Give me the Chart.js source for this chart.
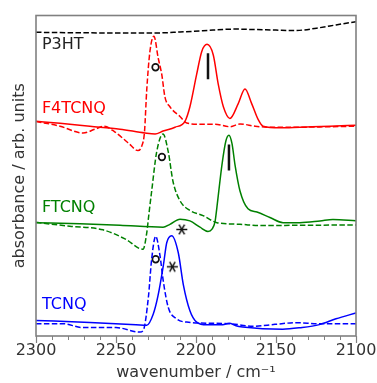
<!DOCTYPE html>
<html>
<head>
<meta charset="utf-8">
<script src="https://cdn.jsdelivr.net/npm/chart.js@4.4.0/dist/chart.umd.min.js"></script>
<style>
  html, body { margin: 0; padding: 0; background: #fff; }
</style>
</head>
<body>
<canvas id="chart" width="377" height="383"></canvas>
<script>
// spectra, wavenumber (cm-1) and absorbance (arb. units, offset per sample)
const p3htWn  = [2300, 2272.5, 2247.5, 2225, 2210, 2195.8, 2175, 2162.5, 2150, 2141, 2133.3, 2122.5, 2112.5, 2100];
const p3htAbs = [312.7, 312.2, 312, 312, 313, 314.3, 316, 315.5, 315, 314.5, 315, 317.5, 320.3, 323.7];

const f4Wn  = [2300, 2285, 2266.3, 2247.5, 2231.9, 2225.6, 2220.6, 2213.1, 2206.9, 2203.8, 2199.6, 2196.4, 2193.1, 2189.2, 2186.1, 2182.9, 2178.8, 2173.6, 2169.4, 2165.2, 2161.1, 2158.1, 2147.5, 2135, 2116.3, 2100];
const f4Abs = [221, 219, 216, 213, 209, 208, 211, 215, 221, 236, 269.3, 293, 300.3, 289.3, 259.3, 236, 224, 239.3, 254.3, 239.3, 222.7, 216, 214.3, 215, 216, 217];
const f4NeuWn  = [2300, 2285, 2270.6, 2263.1, 2257.5, 2250.6, 2242.5, 2236.3, 2233.8, 2232.2, 2230.8, 2228.8, 2226.3, 2223.6, 2221.4, 2219.4, 2216.3, 2210, 2205.8, 2197.5, 2188, 2178.8, 2172.5, 2163, 2153.8, 2135, 2116, 2100];
const f4NeuAbs = [221, 216, 209, 213, 216, 210, 199, 191, 196, 210, 253, 293, 308.7, 286, 269.3, 246, 236, 226, 219.3, 218, 218, 215.5, 218.3, 216, 215, 215, 215.5, 216];

const ftWn  = [2300, 2272.5, 2247.5, 2220.6, 2216.3, 2210, 2203.8, 2197.5, 2192.5, 2190, 2188.1, 2186.9, 2183.8, 2181.3, 2179.4, 2177.5, 2175.6, 2172.5, 2167.5, 2161.9, 2153.8, 2145.6, 2135, 2122.5, 2114.4, 2100];
const ftAbs = [116.7, 115.5, 114, 112, 115, 120.3, 118.5, 112, 107.7, 110, 117.7, 133, 176, 201, 206.7, 198, 176, 149.3, 131, 127.7, 122, 116.7, 116.7, 118.5, 120, 118.7];
const ftNeuWn  = [2300, 2278.8, 2258.1, 2244.4, 2233.1, 2230.8, 2229.4, 2227.7, 2224.6, 2220.6, 2217.3, 2214.4, 2210, 2203.8, 2195.6, 2186.9, 2172.5, 2160, 2135, 2100];
const ftNeuAbs = [117, 113, 109.3, 100, 89.3, 106, 126, 149.3, 189.3, 208, 189.3, 159.3, 139.3, 129.3, 124, 116.7, 115, 113.7, 114, 114.3];

const tcWn  = [2300, 2266.3, 2237.5, 2230.8, 2226.7, 2223.8, 2220.4, 2218.3, 2215.2, 2211.1, 2207.9, 2203.8, 2199.6, 2193.3, 2183.3, 2179.2, 2175, 2170.8, 2145.8, 2135, 2122.9, 2112.5, 2100];
const tcAbs = [16, 14, 11.7, 11, 22.7, 41, 72.7, 96, 103.3, 86, 52.7, 26, 14.3, 11.5, 11.7, 13, 10.5, 9.3, 7, 8.5, 11.7, 17.7, 23.7];
const tcNeuWn  = [2300, 2283.3, 2270.8, 2250, 2237.5, 2235, 2232.9, 2229.8, 2227.7, 2225.2, 2222.5, 2220.4, 2217.3, 2212.1, 2205.8, 2179.2, 2164.6, 2150.6, 2137.5, 2122.9, 2100];
const tcNeuAbs = [12.7, 12.7, 8.7, 8.7, 4.3, 4, 6, 39.3, 79.3, 102.7, 82.7, 56, 29.3, 17.7, 14.3, 12.7, 10, 12, 13.7, 12.7, 12.7];

// peak markers
const circleWn = [2225.3, 2221.3, 2225.2];
const circleAbs = [276.7, 184.3, 79];
const barWn = [2192.5, 2179.4];
const barAbs = [277.7, 183.7];
const starWn = [2208.9, 2214.8];
const starAbs = [109.7, 71.3];

// sample names
const names = ["P3HT", "F4TCNQ", "FTCNQ", "TCNQ"];
const nameColors = ["#222222", "#ff0000", "#008000", "#0000ff"];
const nameWn = 2296.3;
const nameAbs = [300.2, 233.5, 131.5, 31.8];

const majorTicks = [2300, 2250, 2200, 2150, 2100];
const minorTicks = [2290, 2280, 2270, 2260, 2240, 2230, 2220, 2210, 2190, 2180, 2170, 2160, 2140, 2130, 2120, 2110];

const pairs = (xs, ys) => xs.map((x, i) => ({ x: x, y: ys[i] }));

function curve(label, xs, ys, color, dashed) {
  return {
    label: label,
    data: pairs(xs, ys),
    showLine: true,
    borderColor: color,
    borderWidth: 1.5,
    borderDash: dashed ? [5.5, 2.4] : [],
    pointRadius: 0,
    cubicInterpolationMode: "monotone",
    fill: false,
  };
}

// asterisk marker
const star = document.createElement("canvas");
star.width = 13;
star.height = 13;
const sc = star.getContext("2d");
sc.strokeStyle = "#111";
sc.lineWidth = 1.5;
for (let a = 0; a < 3; a++) {
  const t = (a * Math.PI) / 3;
  sc.beginPath();
  sc.moveTo(6.5 - 5.5 * Math.cos(t), 6.5 - 5.5 * Math.sin(t));
  sc.lineTo(6.5 + 5.5 * Math.cos(t), 6.5 + 5.5 * Math.sin(t));
  sc.stroke();
}

const extras = {
  id: "extras",
  afterDraw(chart) {
    const { ctx, chartArea: a } = chart;
    const x = chart.scales.x;
    const y = chart.scales.y;
    ctx.save();
    ctx.strokeStyle = "#808080";
    ctx.lineWidth = 1;
    minorTicks.forEach((v) => {
      const px = Math.round(x.getPixelForValue(v)) + 0.5;
      ctx.beginPath();
      ctx.moveTo(px, a.bottom);
      ctx.lineTo(px, a.bottom + 4);
      ctx.stroke();
    });
    ctx.lineWidth = 1.6;
    ctx.strokeRect(a.left, a.top, a.right - a.left, a.bottom - a.top);
    ctx.font = "16px 'DejaVu Sans'";
    ctx.textBaseline = "middle";
    ctx.textAlign = "left";
    names.forEach((n, i) => {
      ctx.fillStyle = nameColors[i];
      ctx.fillText(n, x.getPixelForValue(nameWn), y.getPixelForValue(nameAbs[i]));
    });
    ctx.restore();
  },
};

Chart.defaults.font.family = "'DejaVu Sans', sans-serif";
Chart.defaults.font.size = 16;

new Chart(document.getElementById("chart"), {
  type: "scatter",
  data: {
    datasets: [
      curve("P3HT", p3htWn, p3htAbs, "#000000", true),
      curve("F4TCNQ", f4Wn, f4Abs, "#ff0000", false),
      curve("F4TCNQ neutral", f4NeuWn, f4NeuAbs, "#ff0000", true),
      curve("FTCNQ", ftWn, ftAbs, "#008000", false),
      curve("FTCNQ neutral", ftNeuWn, ftNeuAbs, "#008000", true),
      curve("TCNQ", tcWn, tcAbs, "#0000ff", false),
      curve("TCNQ neutral", tcNeuWn, tcNeuAbs, "#0000ff", true),
      {
        label: "o",
        data: pairs(circleWn, circleAbs),
        pointStyle: "circle",
        pointRadius: 3.3,
        pointBorderWidth: 1.7,
        pointBorderColor: "#111",
        pointBackgroundColor: "rgba(0,0,0,0)",
      },
      {
        label: "|",
        data: pairs(barWn, barAbs),
        pointStyle: "line",
        pointRotation: 90,
        pointRadius: 13,
        pointBorderWidth: 2.5,
        pointBorderColor: "#111",
      },
      {
        label: "*",
        data: pairs(starWn, starAbs),
        pointStyle: star,
      },
    ],
  },
  options: {
    responsive: false,
    animation: false,
    events: [],
    layout: { padding: { top: 6, right: 21, left: 0, bottom: 0 } },
    plugins: { legend: { display: false }, tooltip: { enabled: false } },
    scales: {
      x: {
        type: "linear",
        min: 2100,
        max: 2300,
        reverse: true,
        afterFit: (s) => { s.height = 47; },
        afterBuildTicks: (s) => { s.ticks = majorTicks.map((v) => ({ value: v })); },
        ticks: { color: "#333", padding: -1.5, callback: (v) => String(v) },
        grid: { drawOnChartArea: false, tickLength: 7, tickWidth: 1.2, tickColor: "#808080" },
        border: { display: false },
        title: { display: true, text: "wavenumber / cm\u207B\u00B9", color: "#333", padding: { top: 0, bottom: 1 } },
      },
      y: {
        min: 0,
        max: 330,
        afterFit: (s) => { s.width = 36; },
        ticks: { display: false },
        grid: { display: false },
        border: { display: false },
        title: { display: true, text: "absorbance / arb. units", color: "#333", padding: { top: 10, bottom: 0 } },
      },
    },
  },
  plugins: [extras],
});
</script>
</body>
</html>
